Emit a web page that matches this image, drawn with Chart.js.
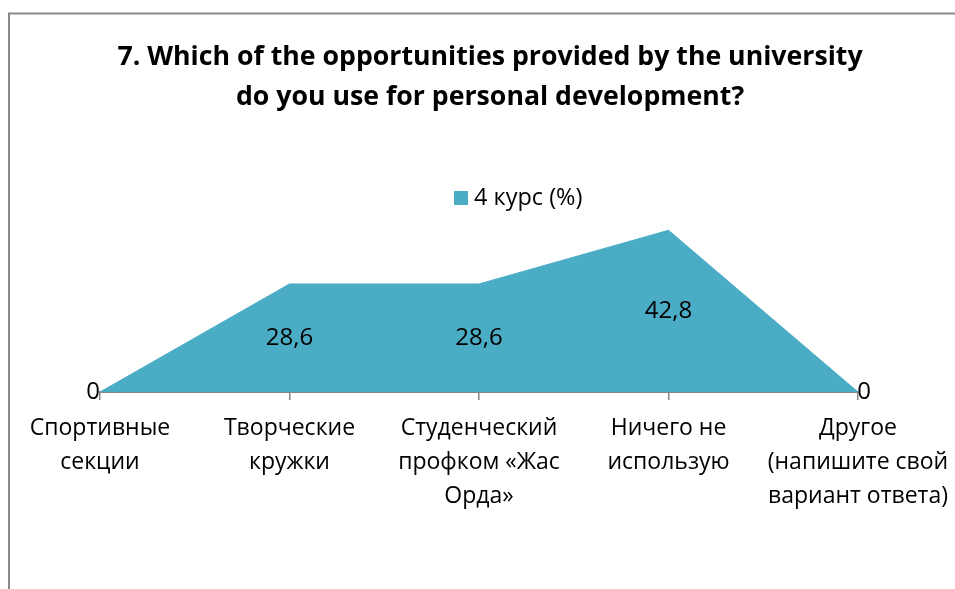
<!DOCTYPE html>
<html>
<head>
<meta charset="utf-8">
<script src="https://cdn.jsdelivr.net/npm/chart.js@4"></script>
<style>
  body { margin: 0; background: #fff; }
</style>
</head>
<body>
<canvas id="chart" width="955" height="589"></canvas>
<script>
const categories = [
  ["Спортивные", "секции"],
  ["Творческие", "кружки"],
  ["Студенческий", "профком «Жас", "Орда»"],
  ["Ничего не", "использую"],
  ["Другое", "(напишите свой", "вариант ответа)"]
];
const values = [0, 28.6, 28.6, 42.8, 0];
const seriesName = "4 курс (%)";
const titleLines = [
  "7. Which of the opportunities provided by the university",
  "do you use for personal development?"
];

const FONT = "'Open Sans', 'Noto Sans', sans-serif";
const TEAL = "#4BACC6";

// frame, title, legend and value labels drawn straight on the canvas
const extras = {
  id: "extras",
  beforeDraw(chart) {
    const ctx = chart.ctx;
    ctx.save();
    ctx.strokeStyle = "#898989";
    ctx.lineWidth = 2;
    ctx.beginPath();
    ctx.moveTo(9, 589);
    ctx.lineTo(9, 13.5);
    ctx.lineTo(955, 13.5);
    ctx.stroke();
    ctx.restore();
  },
  afterDraw(chart) {
    const ctx = chart.ctx;
    ctx.save();
    ctx.fillStyle = "#000";
    ctx.textAlign = "center";
    ctx.textBaseline = "middle";
    ctx.font = "bold 26.7px " + FONT;
    titleLines.forEach((t, i) => ctx.fillText(t, 490, 57 + i * 40));

    ctx.fillStyle = TEAL;
    ctx.fillRect(454, 191, 14, 14);
    ctx.fillStyle = "#000";
    ctx.textAlign = "left";
    ctx.font = "23.5px " + FONT;
    ctx.fillText(seriesName, 474, 198);

    const meta = chart.getDatasetMeta(0);
    const base = chart.scales.y.getPixelForValue(0);
    ctx.textAlign = "center";
    ctx.font = "24px " + FONT;
    meta.data.forEach((pt, i) => {
      const v = values[i];
      let x = pt.x;
      let y = (pt.y + base) / 2;
      if (v === 0) {
        y = base;
        x += i === 0 ? -7 : 6;
      }
      ctx.fillText(String(v).replace(".", ","), x, y);
    });
    ctx.restore();
  }
};

new Chart(document.getElementById("chart"), {
  type: "line",
  data: {
    labels: categories,
    datasets: [{
      label: seriesName,
      data: values,
      fill: "origin",
      backgroundColor: TEAL,
      borderColor: TEAL,
      borderWidth: 1,
      pointRadius: 0,
      tension: 0
    }]
  },
  options: {
    responsive: false,
    animation: false,
    layout: { padding: { left: 100, right: 97, top: 222, bottom: 0 } },
    plugins: {
      legend: { display: false },
      title: { display: false },
      tooltip: { enabled: false }
    },
    scales: {
      x: {
        offset: false,
        border: { color: "#868686", width: 2 },
        grid: { drawOnChartArea: false, color: "#868686", lineWidth: 1.5, tickLength: 8 },
        ticks: {
          color: "#000",
          padding: 11,
          maxRotation: 0,
          autoSkip: false,
          font: { family: FONT, size: 23, lineHeight: "34px" }
        },
        afterFit(scale) {
          scale.height = 197;
          // labels may hang past the plot edges, as in the original
          scale.paddingLeft = 0;
          scale.paddingRight = 0;
        }
      },
      y: {
        display: false,
        min: 0,
        max: 45
      }
    }
  },
  plugins: [extras]
});
</script>
</body>
</html>
